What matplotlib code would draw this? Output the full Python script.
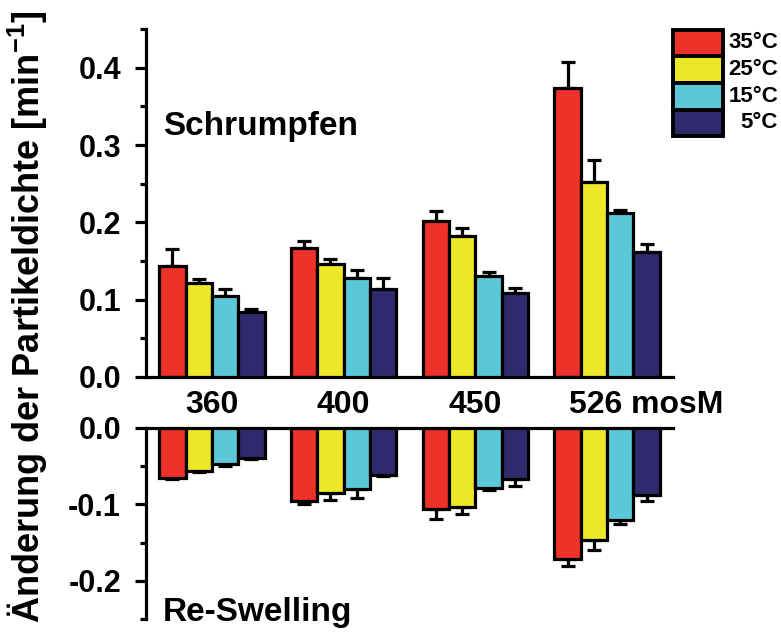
import matplotlib
matplotlib.use("Agg")
import matplotlib.pyplot as plt
import numpy as np
from matplotlib.patches import Rectangle

plt.rcParams["font.family"] = ["Liberation Sans", "DejaVu Sans"]
plt.rcParams["font.weight"] = "bold"
plt.rcParams["mathtext.fontset"] = "custom"
plt.rcParams["mathtext.rm"] = "Liberation Sans:bold"
plt.rcParams["mathtext.bf"] = "Liberation Sans:bold"
plt.rcParams["mathtext.default"] = "bf"

# ── Data ─────────────────────────────────────────────────────────
categories = ["360", "400", "450", "526"]
temps = ["35°C", "25°C", "15°C", "5°C"]
colors = ["#EE3129", "#EDE72A", "#5BC8DA", "#2F2A6E"]

# shrinking rate (upper panel)
shrink = [
    [0.143, 0.167, 0.202, 0.374],  # 35°C
    [0.121, 0.146, 0.182, 0.252],  # 25°C
    [0.105, 0.128, 0.131, 0.212],  # 15°C
    [0.084, 0.113, 0.108, 0.161],  # 5°C
]
shrink_err = [
    [0.022, 0.009, 0.012, 0.034],
    [0.006, 0.006, 0.011, 0.029],
    [0.008, 0.010, 0.005, 0.004],
    [0.004, 0.015, 0.007, 0.011],
]

# re-swelling rate (lower panel)
swell = [
    [-0.065, -0.095, -0.106, -0.171],
    [-0.056, -0.085, -0.104, -0.147],
    [-0.048, -0.080, -0.079, -0.120],
    [-0.040, -0.062, -0.067, -0.088],
]
swell_err = [
    [0.002, 0.004, 0.013, 0.010],
    [0.002, 0.009, 0.008, 0.012],
    [0.002, 0.012, 0.002, 0.006],
    [0.001, 0.001, 0.009, 0.008],
]

# ── Figure ───────────────────────────────────────────────────────
W, H = 781, 635
fig = plt.figure(figsize=(W / 100, H / 100), dpi=100)

left, right = 146, 673
ax_top = fig.add_axes([left / W, 1 - 376.7 / H, (right - left) / W, (376.7 - 29.3) / H])
ax_bot = fig.add_axes([left / W, 1 - 619.3 / H, (right - left) / W, (619.3 - 427.7) / H])

x = np.arange(len(categories))
bw = 0.2
offsets = (np.arange(len(temps)) - 1.5) * bw
LW = 2.3

for i in range(len(temps)):
    xs = x + offsets[i]
    # upper: error only upward
    ax_top.errorbar(xs, shrink[i], yerr=[np.zeros(4), shrink_err[i]], fmt="none",
                    ecolor="black", elinewidth=LW, capsize=5, capthick=LW, zorder=1)
    ax_top.bar(xs, shrink[i], width=bw, color=colors[i], edgecolor="black",
               linewidth=LW, zorder=2 + i)
    # lower: error only downward
    ax_bot.errorbar(xs, swell[i], yerr=[swell_err[i], np.zeros(4)], fmt="none",
                    ecolor="black", elinewidth=LW, capsize=5, capthick=LW, zorder=1)
    ax_bot.bar(xs, swell[i], width=bw, color=colors[i], edgecolor="black",
               linewidth=LW, zorder=2 + i)

for ax in (ax_top, ax_bot):
    ax.set_xlim(-0.5, 3.5)
    ax.set_xticks([])
    for s in ax.spines.values():
        s.set_linewidth(LW)
    ax.tick_params(axis="y", which="major", length=8, width=LW, labelsize=22, pad=10)
    ax.tick_params(axis="y", which="minor", length=4.5, width=LW)

ax_top.set_ylim(0, 0.45)
ax_top.set_yticks([0.0, 0.1, 0.2, 0.3, 0.4])
ax_top.set_yticks(np.arange(0.05, 0.46, 0.1), minor=True)
ax_top.spines["top"].set_visible(False)
ax_top.spines["right"].set_visible(False)

ax_bot.set_ylim(-0.25, 0)
ax_bot.set_yticks([-0.2, -0.1, 0.0])
ax_bot.set_yticks([-0.25, -0.15, -0.05], minor=True)
ax_bot.spines["bottom"].set_visible(False)
ax_bot.spines["right"].set_visible(False)

for ax in (ax_top, ax_bot):
    ax.set_yticklabels([f"{v:.1f}" for v in ax.get_yticks()])

# category labels between the two panels
tr = ax_top.get_xaxis_transform()
for xi, cat in zip(x, categories):
    if cat == categories[-1]:
        ax_top.text(xi - 0.29, -0.105, cat + " mosM", transform=tr, ha="left",
                    va="baseline", fontsize=23, fontweight="bold", clip_on=False)
    else:
        ax_top.text(xi, -0.105, cat, transform=tr, ha="center", va="baseline",
                    fontsize=23, fontweight="bold", clip_on=False)

fig.text(163 / W, 1 - 135 / H, "Schrumpfen", ha="left", va="baseline",
         fontsize=24, fontweight="bold")
fig.text(163 / W, 1 - 620.7 / H, "Re-Swelling", ha="left", va="baseline",
         fontsize=24, fontweight="bold")

fig.text(28 / W, 1 - 317 / H, "Änderung der Partikeldichte [min$^{-1}$]",
         rotation=90, ha="center", va="center", fontsize=26, fontweight="bold")

# legend: stacked colour boxes with right-aligned labels
row_h = 26.7
top_y = 29.5
for i, (lab, col) in enumerate(zip(temps, colors)):
    y0 = top_y + i * row_h
    fig.patches.append(Rectangle((673 / W, 1 - (y0 + row_h) / H), 50 / W, row_h / H,
                                 transform=fig.transFigure, facecolor=col,
                                 edgecolor="black", linewidth=2.8))
    fig.text(778 / W, 1 - (y0 + row_h / 2) / H, lab, ha="right", va="center",
             fontsize=16, fontweight="bold")

fig.savefig("out.png", dpi=100)
